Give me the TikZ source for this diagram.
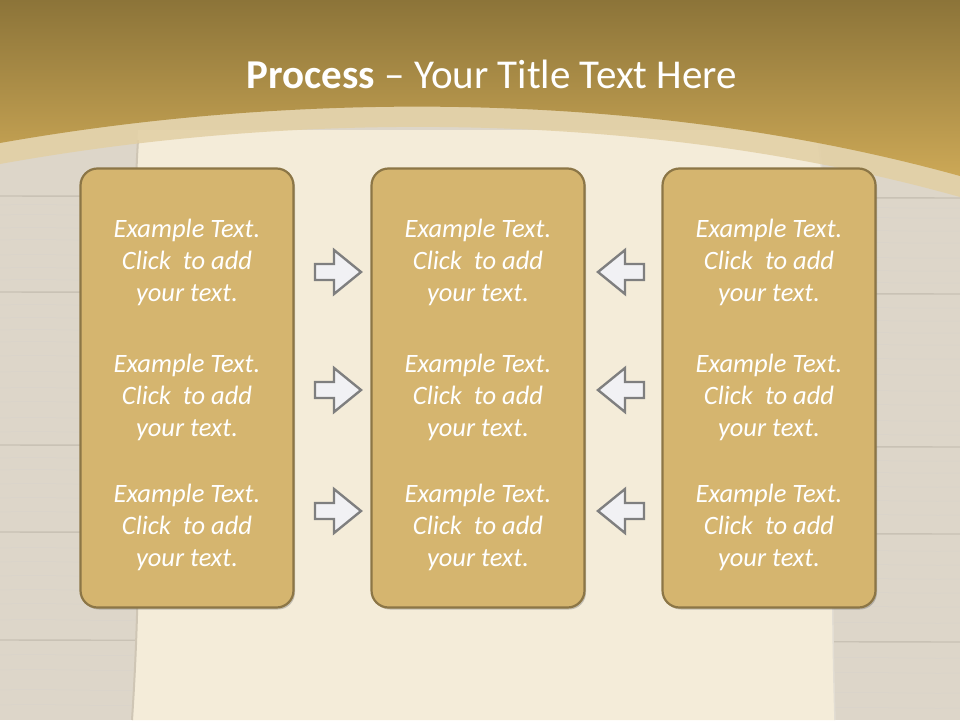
\documentclass[tikz,border=0pt]{standalone}
\usepackage{fontspec}
\setmainfont{Carlito}
\usetikzlibrary{shadows}
\definecolor{wood}{HTML}{DDD6C9}
\definecolor{woodline}{HTML}{C9C2B5}
\definecolor{parch}{HTML}{F4ECD9}
\definecolor{parchedge}{HTML}{CFC6B5}
\definecolor{goldtop}{HTML}{8C7439}
\definecolor{goldbot}{HTML}{CCA856}
\definecolor{bandc}{HTML}{E2CFA3}
\definecolor{boxfill}{HTML}{D5B56F}
\definecolor{boxline}{HTML}{8C7646}
\definecolor{arrline}{HTML}{7F7F7F}
\definecolor{arrfill}{HTML}{F1F1F4}
\tikzset{
  procbox/.style={draw=boxline, line width=2.2pt, fill=boxfill, rounded corners=17pt,
    minimum width=213pt, minimum height=439pt, inner sep=0pt,
    drop shadow={shadow xshift=1.5pt, shadow yshift=-2pt, opacity=0.35, fill=black!60}},
  boxtext/.style={text=white, font=\fontsize{26.5}{32}\selectfont\itshape, align=center},
  arrowpath/.style={draw=arrline, line width=2.4pt, fill=arrfill, line join=miter},
  woodplank/.style={woodline, line width=1.4pt},
  grain/.style={woodline!70, line width=0.5pt},
  rarrow/.pic={\path[arrowpath] (-23,-8) -- (-4,-8) -- (-4,-22) -- (23,0) -- (-4,22) -- (-4,8) -- (-23,8) -- cycle;},
  larrow/.pic={\path[arrowpath] (23,-8) -- (4,-8) -- (4,-22) -- (-23,0) -- (4,22) -- (4,8) -- (23,8) -- cycle;}
}
\begin{document}
\begin{tikzpicture}[x=1pt,y=-1pt]
\useasboundingbox (0,0) rectangle (960,720);
% wood background
\fill[wood] (0,0) rectangle (960,720);
\foreach \yy in {196,292,445,532,640} {\draw[woodplank] (0,\yy) -- (960,\yy+2);}
\foreach \yy in {205,215,228,240,255,268,280,305,318,330,342,356,372,388,402,418,432,458,470,484,498,512,548,562,576,590,604,620,655,670,690,705} {
  \draw[grain] (0,\yy) .. controls (50,\yy-1.5) and (100,\yy+1.5) .. (140,\yy);
  \draw[grain] (825,\yy+3) .. controls (870,\yy+1.5) and (920,\yy+4) .. (960,\yy+3);}
% parchment
\fill[parch] (138,130) .. controls (128,300) and (148,480) .. (132,720) -- (835,720) .. controls (828,500) and (840,300) .. (818,130) -- cycle;
\draw[parchedge, line width=2pt] (138,140) .. controls (128,300) and (148,480) .. (132,720);
\draw[parchedge!60, line width=1.5pt] (818,140) .. controls (840,300) and (828,500) .. (835,720);
% light band
\fill[bandc, opacity=0.85] (0,0) -- (960,0) -- (960,197) .. controls (650,110) and (300,110) .. (0,164) -- cycle;
% gold band
\shade[top color=goldtop, bottom color=goldbot] (0,0) -- (960,0) -- (960,176) .. controls (650,90) and (300,90) .. (0,143) -- cycle;
% title
\node[text=white, font=\fontsize{41}{48}\selectfont] (title) at (492,74) {\textbf{Process} – Your Title Text Here};
% boxes
\node[procbox] (b1) at (187,388) {};
\node[procbox] (b2) at (478,388) {};
\node[procbox] (b3) at (769,388) {};
% texts
\foreach \n/\xx in {1/187,2/478,3/769} {
  \node[boxtext] (t\n a) at (\xx,262) {Example Text.\\Click\ \ to add\\your text.};
  \node[boxtext] (t\n b) at (\xx,397) {Example Text.\\Click\ \ to add\\your text.};
  \node[boxtext] (t\n c) at (\xx,527) {Example Text.\\Click\ \ to add\\your text.};
}
% arrows
\foreach \yy/\k in {272/a,390/b,511/c} {
  \pic (ra\k) at (338,\yy) {rarrow};
  \pic (la\k) at (621,\yy) {larrow};
}
\end{tikzpicture}
\end{document}
